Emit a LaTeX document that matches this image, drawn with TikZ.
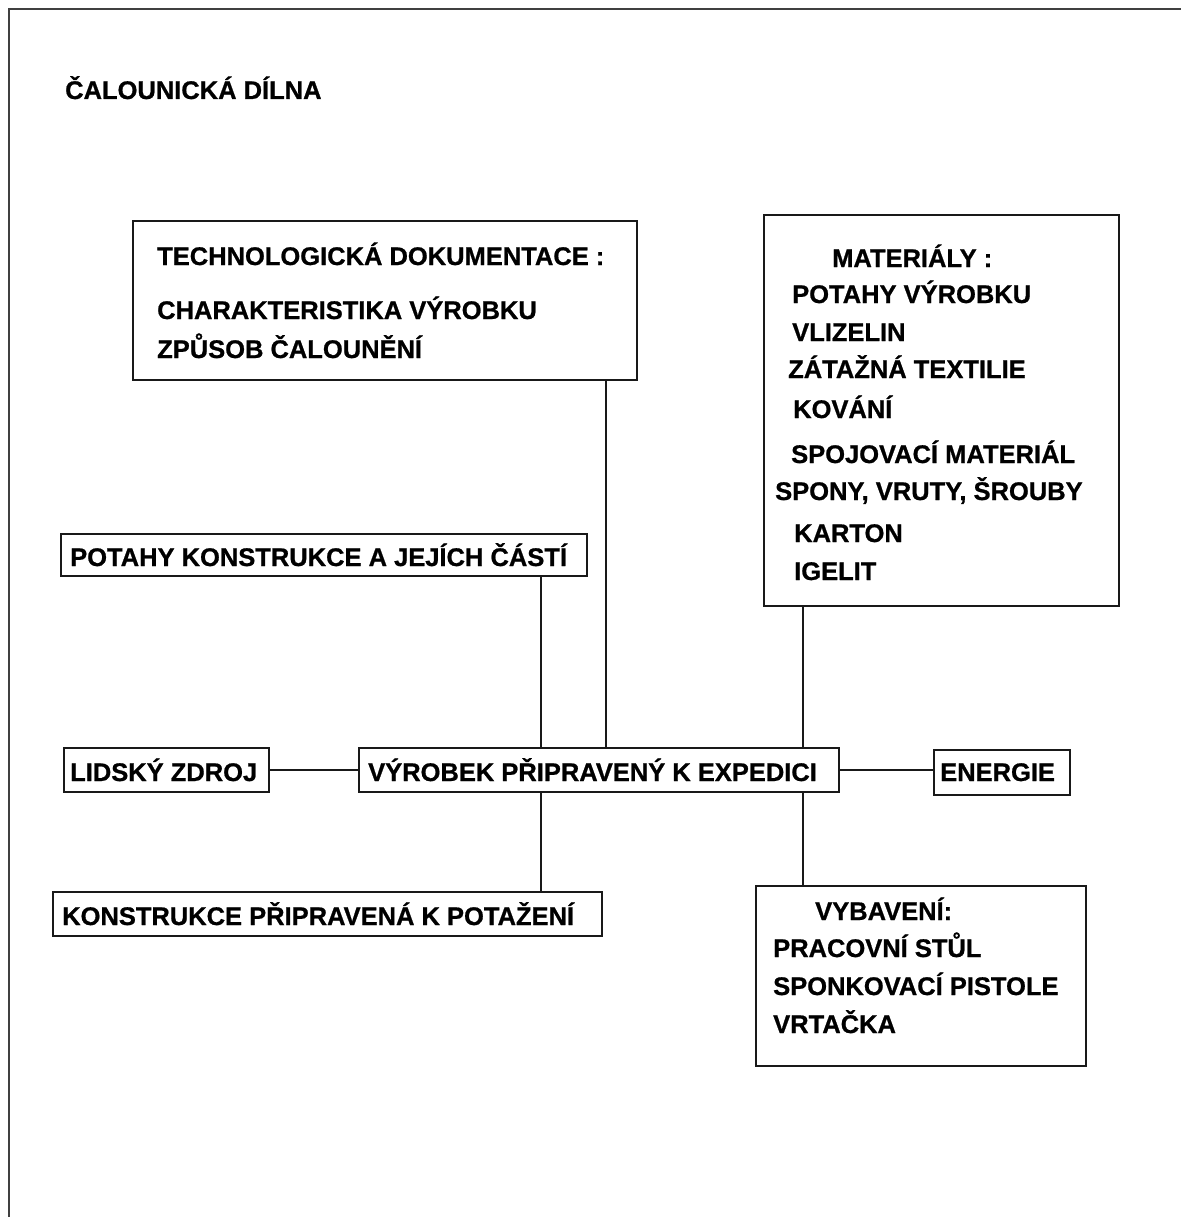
\documentclass[tikz,border=0pt]{standalone}
\usepackage{fontspec}
\setmainfont[BoldFeatures={FakeBold=0.8}]{Liberation Sans}
\begin{document}
\begin{tikzpicture}[x=1pt,y=-1pt,
  box/.style={draw=black!90,line width=1.8pt,rectangle,inner sep=0pt,anchor=north west},
  lbl/.style={anchor=base west,inner sep=0pt,font=\fontsize{25.5}{30}\selectfont\bfseries},
  link/.style={draw=black!90,line width=1.8pt}]
\useasboundingbox (0,0) rectangle (1181,1217);
% open page frame
\draw[black!75,line width=2.5pt] (9,1217) -- (9,9) -- (1181,9);
% boxes
\node[box,minimum width=504pt,minimum height=159pt] (tech) at (132,220) {};
\node[box,minimum width=355pt,minimum height=391pt] (mat) at (763,214) {};
\node[box,minimum width=526pt,minimum height=42pt] (pot) at (60,533) {};
\node[box,minimum width=205pt,minimum height=44pt] (lid) at (63,747) {};
\node[box,minimum width=480pt,minimum height=44pt] (vyr) at (358,747) {};
\node[box,minimum width=136pt,minimum height=45pt] (ene) at (933,749) {};
\node[box,minimum width=549pt,minimum height=44pt] (kon) at (52,891) {};
\node[box,minimum width=330pt,minimum height=180pt] (vyb) at (755,885) {};
% texts
\node[lbl] (title) at (65,99) {ČALOUNICKÁ DÍLNA};
\node[lbl] (t1) at (157,265) {TECHNOLOGICKÁ DOKUMENTACE :};
\node[lbl] (t2) at (157,319) {CHARAKTERISTIKA VÝROBKU};
\node[lbl] (t3) at (157,358) {ZPŮSOB ČALOUNĚNÍ};
\node[lbl] (m1) at (832,267) {MATERIÁLY :};
\node[lbl] (m2) at (792,303) {POTAHY VÝROBKU};
\node[lbl] (m3) at (792,341) {VLIZELIN};
\node[lbl] (m4) at (788,378) {ZÁTAŽNÁ TEXTILIE};
\node[lbl] (m5) at (793,418) {KOVÁNÍ};
\node[lbl] (m6) at (791,463) {SPOJOVACÍ MATERIÁL};
\node[lbl] (m7) at (775,500) {SPONY, VRUTY, ŠROUBY};
\node[lbl] (m8) at (794,542) {KARTON};
\node[lbl] (m9) at (794,580) {IGELIT};
\node[lbl] (p1) at (70,566) {POTAHY KONSTRUKCE A JEJÍCH ČÁSTÍ};
\node[lbl] (l1) at (70,781) {LIDSKÝ ZDROJ};
\node[lbl] (v1) at (368,781) {VÝROBEK PŘIPRAVENÝ K EXPEDICI};
\node[lbl] (e1) at (940,781) {ENERGIE};
\node[lbl] (k1) at (62,925) {KONSTRUKCE PŘIPRAVENÁ K POTAŽENÍ};
\node[lbl] (b1) at (815,920) {VYBAVENÍ:};
\node[lbl] (b2) at (773,957) {PRACOVNÍ STŮL};
\node[lbl] (b3) at (773,995) {SPONKOVACÍ PISTOLE};
\node[lbl] (b4) at (773,1033) {VRTAČKA};
% connector columns
\coordinate (xa) at (541,0);
\coordinate (xb) at (606,0);
\coordinate (xc) at (803,0);
\draw[link] (tech.south -| xb) -- (vyr.north -| xb);
\draw[link] (pot.south -| xa) -- (vyr.north -| xa);
\draw[link] (mat.south -| xc) -- (vyr.north -| xc);
\draw[link] (vyr.south -| xa) -- (kon.north -| xa);
\draw[link] (vyr.south -| xc) -- (vyb.north -| xc);
\draw[link] (lid.east) -- (vyr.west);
\draw[link] (vyr.east) -- (ene.west |- vyr.east);
\end{tikzpicture}
\end{document}
